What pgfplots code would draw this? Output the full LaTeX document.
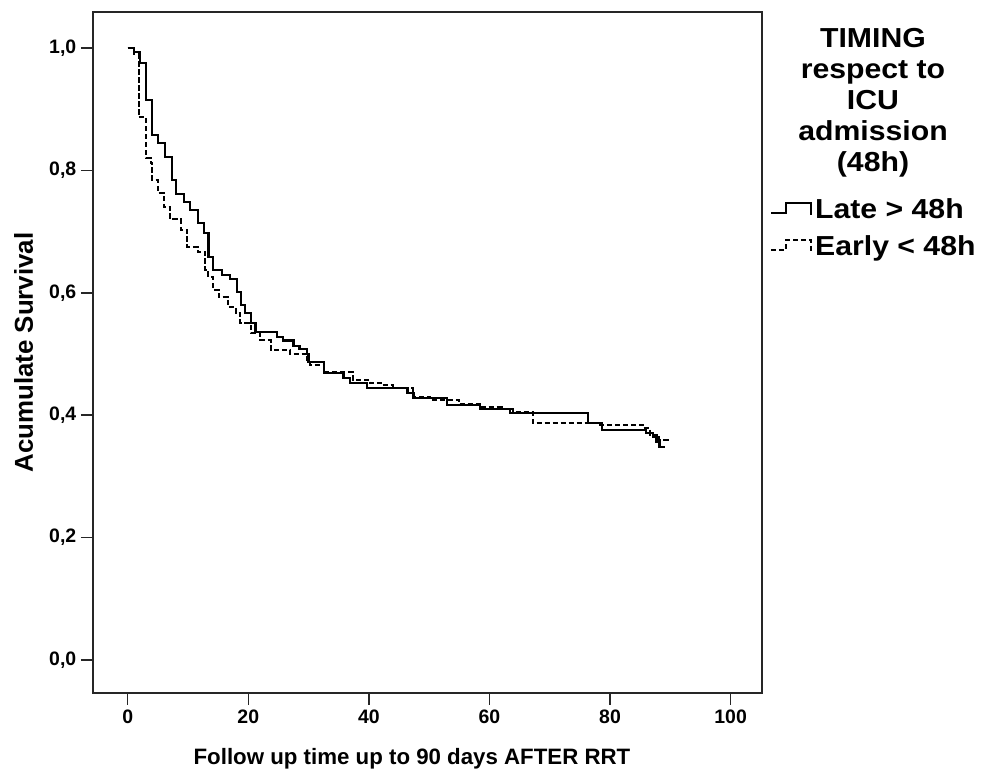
\documentclass[border=0pt]{standalone}
\usepackage{fontspec}
\setmainfont{Liberation Sans}
\newfontfamily\legfont{Liberation Sans}[FakeStretch=1.1]
\usepackage{pgfplots}
\usepackage{pgfplotstable}
\pgfplotsset{compat=1.18}

\pgfplotstableread{
x y
0 1.0
1.0 0.993
2.0 0.975
3.0 0.915
4.1 0.858
5.1 0.845
6.2 0.822
7.4 0.784
8.0 0.762
9.3 0.748
10.4 0.735
11.6 0.714
12.6 0.698
13.4 0.659
14.2 0.637
15.7 0.629
17.0 0.622
18.2 0.601
18.8 0.580
19.5 0.567
20.4 0.550
21.2 0.536
24.8 0.528
25.8 0.522
27.5 0.513
28.5 0.508
29.8 0.500
30.0 0.487
32.5 0.469
35.8 0.461
36.9 0.453
39.7 0.444
46.4 0.436
47.4 0.428
53.0 0.417
58.4 0.410
63.4 0.404
76.3 0.387
78.6 0.376
85.9 0.371
87.1 0.365
87.7 0.356
88.2 0.348
89.0 0.346
}\late

\pgfplotstableread{
x y
0 1.0
1.0 0.990
1.8 0.887
3.0 0.820
3.8 0.812
4.1 0.784
5.0 0.763
6.0 0.740
7.1 0.720
8.8 0.703
9.9 0.675
11.6 0.667
12.9 0.637
13.4 0.626
14.1 0.605
15.1 0.593
16.6 0.577
17.9 0.567
18.7 0.550
20.4 0.534
22.0 0.523
23.7 0.507
27.0 0.500
29.8 0.490
30.3 0.482
32.5 0.471
37.3 0.458
40.2 0.453
42.0 0.449
44.0 0.444
47.4 0.430
50.2 0.425
55.0 0.418
58.4 0.413
62.0 0.410
63.9 0.405
67.2 0.387
78.3 0.384
85.4 0.379
86.6 0.368
88.2 0.359
89.9 0.359
}\early

\begin{document}
\begin{tikzpicture}
\path (0,0) rectangle (737.25pt,578.25pt);
\begin{axis}[
  at={(69.75pt,58.5pt)}, anchor=south west,
  scale only axis,
  width=501.75pt, height=510.75pt,
  xmin=-5.75, xmax=105.2,
  ymin=-0.054, ymax=1.059,
  xtick={0,20,40,60,80,100},
  ytick={0,0.2,0.4,0.6,0.8,1.0},
  xtick pos=left, ytick pos=left,
  tick align=outside,
  major tick length=9pt,
  every tick/.style={black!85, line width=1.1pt},
  axis line style={line width=1.1pt, black!85},
  /pgf/number format/assume math mode=true,
  yticklabel style={/pgf/number format/.cd, fixed, fixed zerofill, precision=1, use comma},
  every tick label/.append style={font=\bfseries\fontsize{14.6}{17}\selectfont},
  clip=false,
  every axis x label/.style={at={(axis description cs:0.4768,-0.1043)}, anchor=base, inner sep=0pt, font=\bfseries\fontsize{16.7}{20}\selectfont},
  every axis y label/.style={at={(axis description cs:-0.0897,0.5)}, rotate=90, anchor=base, inner sep=0pt, font=\bfseries\fontsize{19.4}{22}\selectfont},
  xlabel={Follow up time up to 90 days AFTER RRT},
  ylabel={Acumulate Survival},
  legend style={at={(axis description cs:1.012,0.7254)}, anchor=north west, draw=none, fill=none,
    inner sep=0pt, outer sep=0pt, row sep=7.75pt, column sep=2.25pt,
    nodes={inner sep=0pt, text height=15pt, text depth=5pt, anchor=base west},
    font=\legfont\bfseries\fontsize{20.6}{24}\selectfont},
  legend cell align=left,
  legend image code/.code={\draw[#1] (0pt,4.5pt) -- (11.25pt,4.5pt) -- (11.25pt,12pt) -- (30pt,12pt) -- (30pt,3pt);},
]
\addplot[const plot, black, line width=1.6pt] table[x=x,y=y]{\late};
\addlegendentry{Late > 48h}
\addplot[const plot, black, line width=1.5pt, dash pattern=on 4pt off 2pt] table[x=x,y=y]{\early};
\addlegendentry{Early < 48h}
\end{axis}
\begin{scope}[every node/.style={anchor=base, inner sep=0pt, font=\legfont\bfseries\fontsize{20.6}{24}\selectfont}]
\node at (654.75pt,542.25pt) {TIMING};
\node at (654.75pt,519pt) {respect to};
\node at (654.75pt,495.75pt) {ICU};
\node at (654.75pt,472.5pt) {admission};
\node at (654.75pt,449.25pt) {(48h)};
\end{scope}
\end{tikzpicture}
\end{document}
